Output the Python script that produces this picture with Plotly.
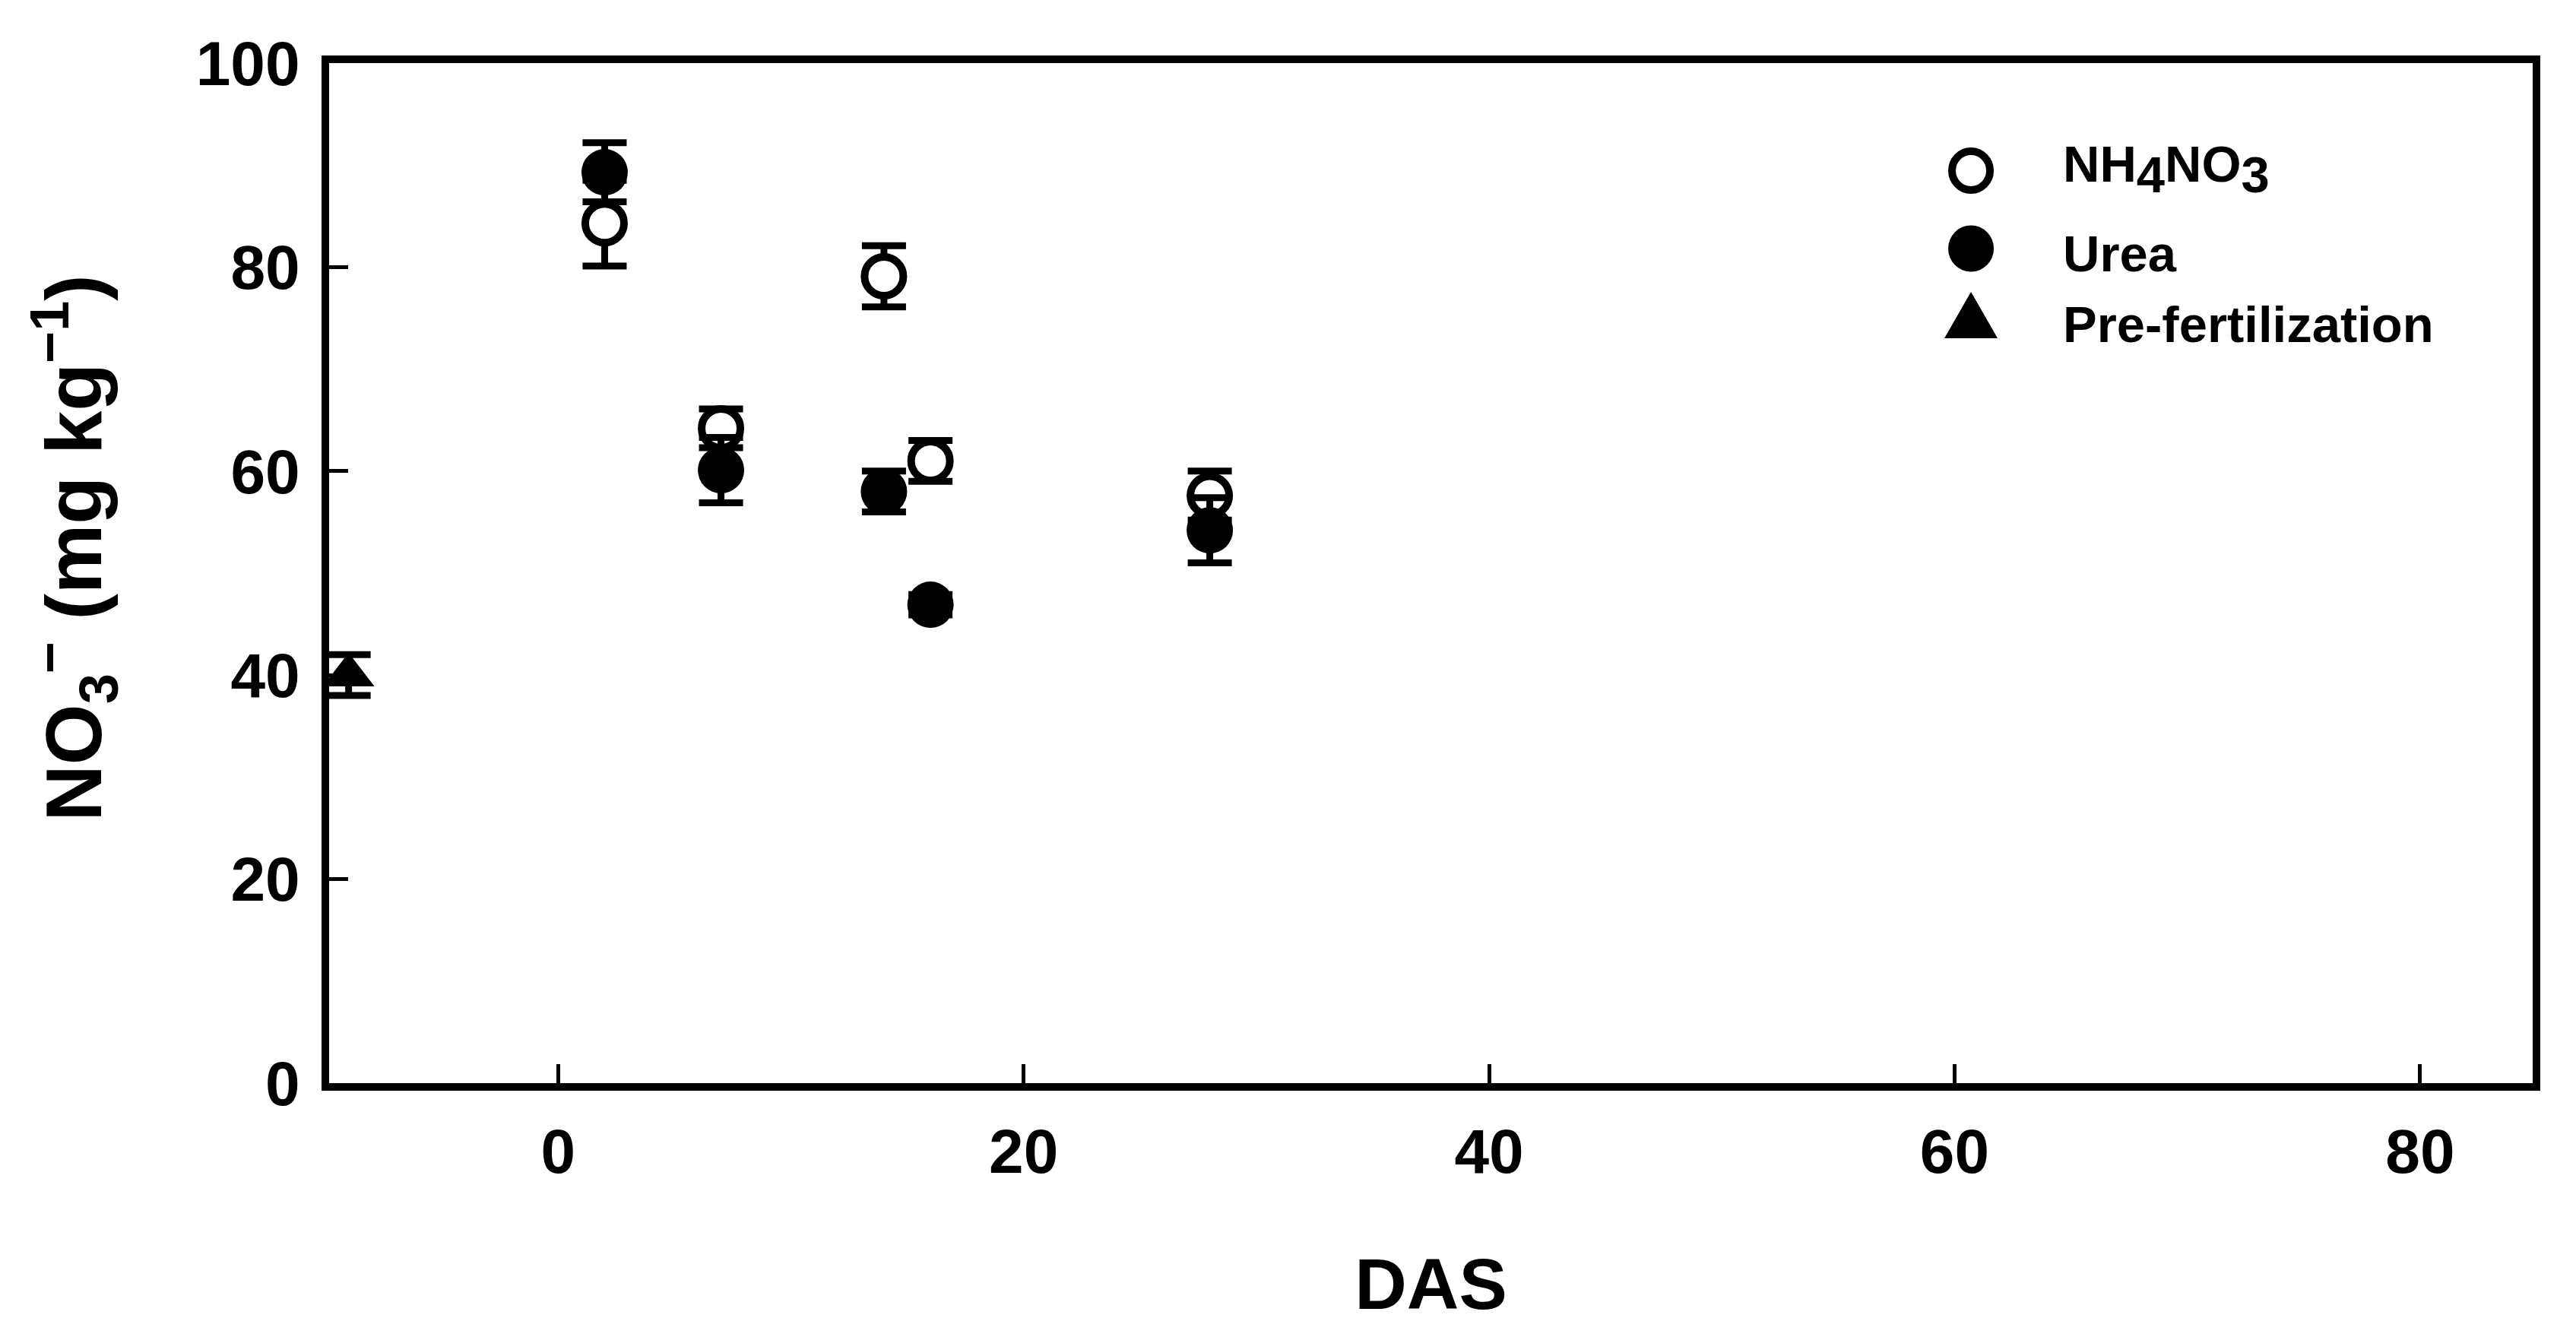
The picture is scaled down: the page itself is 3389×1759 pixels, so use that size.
import plotly.graph_objects as go

# days after sowing and soil nitrate, mean +- error
das = [2, 7, 14, 16, 28]
nh4no3 = [84.3, 64.2, 79.1, 61.0, 57.6]
nh4no3_err = [4.2, 1.9, 3.0, 2.0, 2.4]
urea = [89.3, 60.1, 58.0, 46.9, 54.2]
urea_err = [2.9, 3.2, 2.0, 1.0, 3.2]
pre_das = [-9]
pre = [40.0]
pre_err = [2.0]

legend_names = ['NH4NO3', 'Urea', 'Pre-fertilization']
legend_labels = ['NH<sub><span style="font-size:67px">4</span></sub>NO<sub><span style="font-size:67px">3</span></sub>',
                 'Urea', 'Pre-fertilization']
y_title = 'NO<sub>3</sub><sup>\u2212</sup> (mg kg<sup>\u22121</sup>)'
x_ticks = [0, 20, 40, 60, 80]
y_ticks = [0, 20, 40, 60, 80, 100]

FONT = 'Liberation Sans, Arial, sans-serif'
err_style = dict(type='data', color='black', thickness=9, width=29, visible=True)

fig = go.Figure()
fig.add_trace(go.Scatter(
    x=das, y=nh4no3, name=legend_names[0], mode='markers',
    error_y=dict(array=nh4no3_err, **err_style),
    marker=dict(symbol='circle', size=51, color='white', line=dict(color='black', width=10))))
fig.add_trace(go.Scatter(
    x=das, y=urea, name=legend_names[1], mode='markers',
    error_y=dict(array=urea_err, **err_style),
    marker=dict(symbol='circle', size=61, color='black', line=dict(width=0))))
fig.add_trace(go.Scatter(
    x=pre_das, y=pre, name=legend_names[2], mode='markers',
    error_y=dict(array=pre_err, **err_style),
    marker=dict(symbol='triangle-up', size=59, color='black', line=dict(width=0))))

axis_style = dict(showgrid=False, zeroline=False, showline=True, linecolor='black', linewidth=10,
                  mirror=True, ticks='inside', ticklen=25, tickwidth=5, tickcolor='black',
                  tickfont=dict(family=FONT, size=82, color='black', weight='bold'))

# plotly draws the frame half a line width outside the plot area, so the x range is
# trimmed by that amount to keep -10 and 85 on the frame lines
fig.update_xaxes(range=[-9.837, 84.837], tickvals=x_ticks, ticklabelstandoff=10,
                 title=dict(text='DAS', standoff=100,
                            font=dict(family=FONT, size=95, color='black', weight='bold')),
                 **axis_style)
fig.update_yaxes(range=[0, 100], tickvals=y_ticks, ticklabelstandoff=12, **axis_style)

# y title as an annotation so it can sit a little above the axis middle, as in the original
fig.add_annotation(x=-0.1156, y=0.5246, xref='paper', yref='paper', text=y_title, showarrow=False,
                   textangle=-90, xanchor='center', yanchor='middle',
                   font=dict(family=FONT, size=103, color='black', weight='bold'))

# legend drawn by hand so the symbols keep the full marker size
leg_x = 0.7451
sym_rows = [0.8946, 0.8182, 0.7530]
text_rows = [0.8964, 0.8137, 0.7444]
shape_common = dict(xref='paper', yref='paper', xsizemode='pixel', ysizemode='pixel',
                    xanchor=leg_x, layer='above')
fig.add_shape(type='circle', yanchor=sym_rows[0], x0=-25, x1=25, y0=-25.5, y1=25.5,
              line=dict(color='black', width=10), fillcolor='white', **shape_common)
fig.add_shape(type='circle', yanchor=sym_rows[1], x0=-30, x1=30, y0=-30.5, y1=30.5,
              line=dict(width=0), fillcolor='black', **shape_common)
fig.add_shape(type='path', yanchor=sym_rows[2], path='M-35,-30.5 L35,-30.5 L0,30.5 Z',
              line=dict(width=0), fillcolor='black', **shape_common)
for label, row in zip(legend_labels, text_rows):
    fig.add_annotation(x=0.7861, y=row, xref='paper', yref='paper', text=label, showarrow=False,
                       xanchor='left', yanchor='middle',
                       font=dict(family=FONT, size=67, color='black', weight='bold'))

# the page body keeps its default 8 px margin, so the figure is 8 px smaller and shifted
fig.update_layout(
    width=3381, height=1751,
    margin=dict(l=425, r=57, t=75, b=334),
    paper_bgcolor='white', plot_bgcolor='white',
    showlegend=False,
)

fig.write_html('out.html')
